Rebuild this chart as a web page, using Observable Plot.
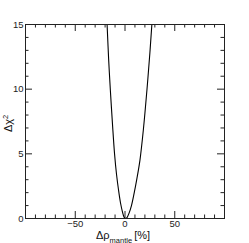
<!DOCTYPE html>
<html>
<head>
<meta charset="utf-8">
<script src="https://cdn.jsdelivr.net/npm/d3@7"></script>
<script src="https://cdn.jsdelivr.net/npm/@observablehq/plot@0.6"></script>
<style>
  html, body { margin: 0; padding: 0; background: #fff; }
  #chart svg { display: block; }
</style>
</head>
<body>
<div id="chart"></div>
<script>
// Δρ_mantle [%] and Δχ²
const rhoMantle = [-19, -18, -16.5, -14.7, -12.5, -10.5, -8.5, -6.5, -4.5, -2.5, -1, 0.5,
                   2, 4, 6.5, 9.3, 12, 15, 18.5, 22, 25, 27, 28];
const deltaChi2 = [16.2, 15, 12.4, 9.9, 7.2, 5.0, 3.4, 2.2, 1.2, 0.5, 0.12, 0,
                   0.07, 0.4, 1.0, 2.0, 3.1, 4.5, 6.9, 9.9, 12.8, 15, 16.1];

const xDomain = [-100, 100];
const yDomain = [0, 15];
const xMajorTicks = [-50, 0, 50];
const xMinorTicks = [-90, -80, -70, -60, -40, -30, -20, -10, 10, 20, 30, 40, 60, 70, 80, 90];
const yMajorTicks = [0, 5, 10, 15];
const yMinorTicks = [1, 2, 3, 4, 6, 7, 8, 9, 11, 12, 13, 14];

const curve = rhoMantle.map((r, i) => ({rho: r, chi2: deltaChi2[i]}));

const W = 249, H = 243;
const mL = 25, mR = 25, mT = 24, mB = 25;
const pxPerY = (H - mT - mB) / (yDomain[1] - yDomain[0]);
const pxPerX = (W - mL - mR) / (xDomain[1] - xDomain[0]);
const majLenY = 7 / pxPerY, minLenY = 3.5 / pxPerY;
const majLenX = 7 / pxPerX, minLenX = 3.5 / pxPerX;
const axisColor = "#222";

const font = "Liberation Sans, Arial, Helvetica, sans-serif";

const chart = Plot.plot({
  width: W,
  height: H,
  marginLeft: mL,
  marginRight: mR,
  marginTop: mT,
  marginBottom: mB,
  style: {fontFamily: font, background: "#fff"},
  x: {domain: xDomain, axis: null},
  y: {domain: yDomain, axis: null},
  marks: [
    // bottom & top ticks
    Plot.ruleX(xMajorTicks, {x: d => d, y1: yDomain[0], y2: yDomain[0] + majLenY, stroke: axisColor}),
    Plot.ruleX(xMinorTicks, {x: d => d, y1: yDomain[0], y2: yDomain[0] + minLenY, stroke: axisColor}),
    Plot.ruleX(xMajorTicks, {x: d => d, y1: yDomain[1], y2: yDomain[1] - majLenY, stroke: axisColor}),
    Plot.ruleX(xMinorTicks, {x: d => d, y1: yDomain[1], y2: yDomain[1] - minLenY, stroke: axisColor}),
    // left & right ticks
    Plot.ruleY(yMajorTicks, {y: d => d, x1: xDomain[0], x2: xDomain[0] + majLenX, stroke: axisColor}),
    Plot.ruleY(yMinorTicks, {y: d => d, x1: xDomain[0], x2: xDomain[0] + minLenX, stroke: axisColor}),
    Plot.ruleY(yMajorTicks, {y: d => d, x1: xDomain[1], x2: xDomain[1] - majLenX, stroke: axisColor}),
    Plot.ruleY(yMinorTicks, {y: d => d, x1: xDomain[1], x2: xDomain[1] - minLenX, stroke: axisColor}),
    // tick labels
    Plot.axisX(xMajorTicks, {anchor: "bottom", label: null, tickSize: 0, tickPadding: 2, fontSize: 9.5, fill: "#222", tickFormat: d => d < 0 ? "\u2212" + Math.abs(d) : String(d)}),
    Plot.axisY(yMajorTicks, {anchor: "left", label: null, tickSize: 0, tickPadding: 2, fontSize: 9.5, fill: "#222"}),
    // curve
    Plot.line(curve, {x: "rho", y: "chi2", stroke: "#000", strokeWidth: 1.1, curve: "catmull-rom", clip: true}),
    Plot.frame({stroke: axisColor, strokeWidth: 1})
  ]
});

const svg = d3.select(chart);
// x axis title with subscript
const xt = svg.append("text")
  .attr("x", 96).attr("y", 239)
  .attr("text-anchor", "start")
  .attr("font-family", font).attr("font-size", 11).attr("fill", "#111");
xt.append("tspan").text("\u0394\u03c1");
xt.append("tspan").attr("font-size", 7.5).attr("dy", 3.5).text("mantle");
xt.append("tspan").attr("dy", -3.5).attr("dx", 2).text("[%]");

// y axis title with superscript
const yt = svg.append("text")
  .attr("transform", "translate(12,132) rotate(-90)")
  .attr("text-anchor", "start")
  .attr("font-family", font).attr("font-size", 11).attr("fill", "#111");
yt.append("tspan").text("\u0394\u03c7");
yt.append("tspan").attr("font-size", 7.5).attr("dy", -4.5).text("2");

document.getElementById("chart").appendChild(chart);
</script>
</body>
</html>
